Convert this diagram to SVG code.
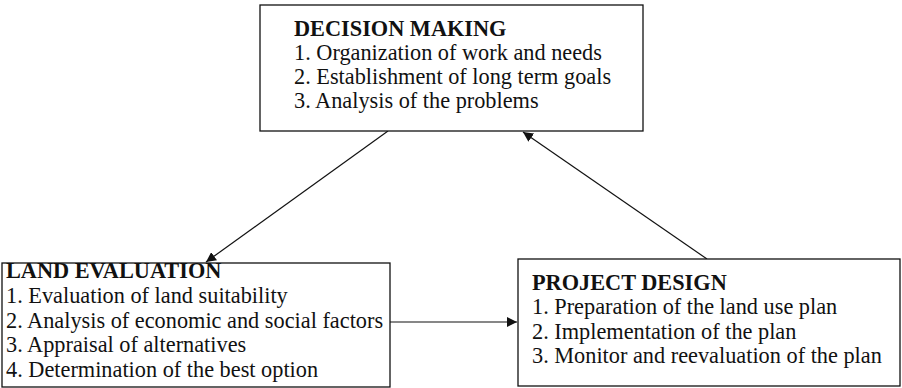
<svg xmlns="http://www.w3.org/2000/svg" width="902" height="388" viewBox="0 0 902 388">
<style>
  .box { fill: #ffffff; stroke: #111111; stroke-width: 1.3; }
  .t { font-family: "Liberation Serif", "Times New Roman", serif; font-size: 22.3px; fill: #111111; }
  .h { font-weight: bold; }
  .c { stroke: #111111; stroke-width: 1.2; fill: none; }
</style>
<defs>
  <marker id="ah" viewBox="0 0 10 10" refX="10" refY="5" markerWidth="10" markerHeight="10" markerUnits="userSpaceOnUse" orient="auto">
    <path d="M0,0 L10,5 L0,10 z" fill="#111111"/>
  </marker>
</defs>
<rect width="902" height="388" fill="#ffffff"/>
<g id="connectors">
  <line class="c" x1="388" y1="131" x2="206" y2="262" marker-end="url(#ah)"/>
  <line class="c" x1="707" y1="259" x2="523" y2="132" marker-end="url(#ah)"/>
  <line class="c" x1="390" y1="322" x2="517" y2="322" marker-end="url(#ah)"/>
</g>
<g id="decision-making">
  <rect class="box" x="260" y="5" width="383" height="126"/>
  <text class="t h" x="294" y="36">DECISION MAKING</text>
  <text class="t" x="294" y="60">1. Organization of work and needs</text>
  <text class="t" x="294" y="84">2. Establishment of long term goals</text>
  <text class="t" x="294" y="108">3. Analysis of the problems</text>
</g>
<g id="land-evaluation">
  <rect class="box" x="2" y="263" width="388" height="124"/>
  <text class="t h" x="6" y="278">LAND EVALUATION</text>
  <text class="t" x="6" y="303">1. Evaluation of land suitability</text>
  <text class="t" x="6" y="328">2. Analysis of economic and social factors</text>
  <text class="t" x="6" y="352">3. Appraisal of alternatives</text>
  <text class="t" x="6" y="377">4. Determination of the best option</text>
</g>
<g id="project-design">
  <rect class="box" x="518" y="259" width="382" height="127"/>
  <text class="t h" x="532" y="290">PROJECT DESIGN</text>
  <text class="t" x="532" y="314">1. Preparation of the land use plan</text>
  <text class="t" x="532" y="339">2. Implementation of the plan</text>
  <text class="t" x="532" y="363">3. Monitor and reevaluation of the plan</text>
</g>
</svg>
